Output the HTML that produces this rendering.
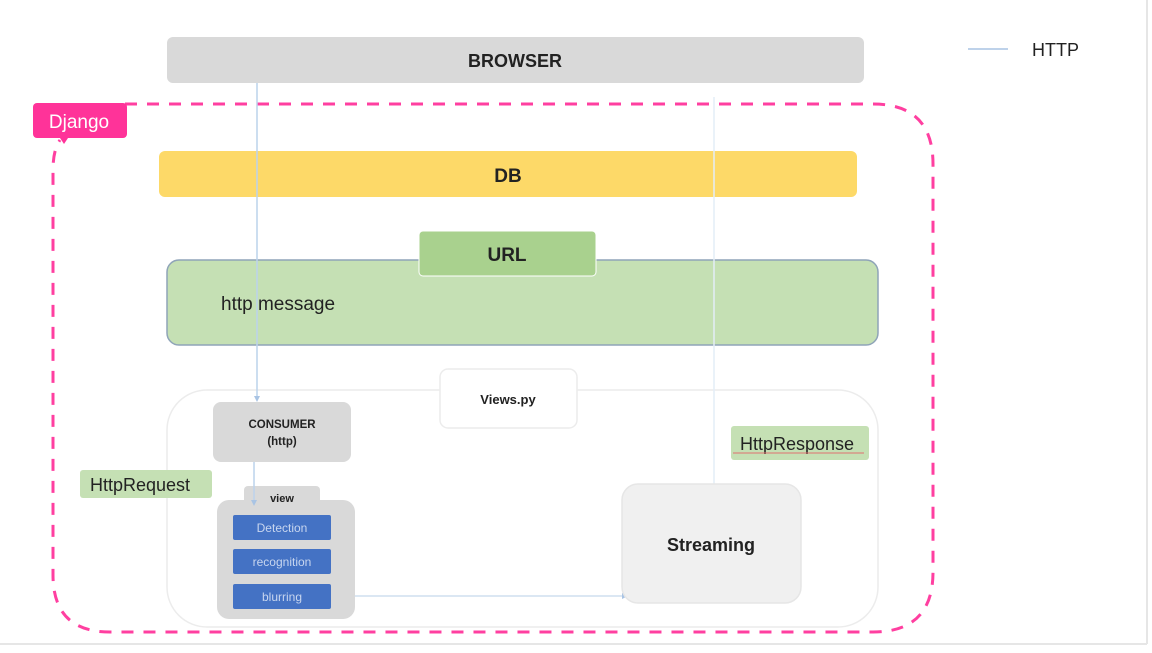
<!DOCTYPE html>
<html><head><meta charset="utf-8"><style>
body{margin:0;width:1152px;height:648px;background:#fff;overflow:hidden}
svg text{font-family:"Liberation Sans","Noto Sans CJK KR",sans-serif}
</style></head><body>
<svg width="1152" height="648" viewBox="0 0 1152 648" xmlns="http://www.w3.org/2000/svg">
<line x1="1147" y1="0" x2="1147" y2="644" stroke="#e6e6e6" stroke-width="2"/>
<line x1="0" y1="644" x2="1147" y2="644" stroke="#e6e6e6" stroke-width="2"/>
<!-- legend -->
<line x1="968" y1="49" x2="1008" y2="49" stroke="#a9c4e4" stroke-width="1.5"/>
<text x="1032" y="56" font-size="18" fill="#222">HTTP</text>
<!-- browser -->
<rect x="167" y="37" width="697" height="46" rx="6" fill="#d9d9d9"/>
<text x="515" y="67" font-size="18" font-weight="bold" text-anchor="middle" fill="#222">BROWSER</text>
<!-- dashed django -->
<path d="M125 104 H873 Q933 104 933 164 V572 Q933 632 873 632 H110 Q53 632 53 575 V170 Q53 150 60 140" fill="none" stroke="#ff3fa0" stroke-width="3" stroke-dasharray="12 10"/>
<rect x="33" y="103" width="94" height="35" rx="4" fill="#ff3399"/>
<polygon points="60,138 68,138 64,144" fill="#ff3399"/>
<text x="79" y="128" font-size="19" text-anchor="middle" fill="#fff">Django</text>
<!-- DB -->
<rect x="159" y="151" width="698" height="46" rx="6" fill="#fdd968"/>
<text x="508" y="182" font-size="19" font-weight="bold" text-anchor="middle" fill="#222">DB</text>
<!-- URL -->
<rect x="167" y="260" width="711" height="85" rx="12" fill="#c5e0b4" stroke="#8fa4b8" stroke-width="1.5"/>
<rect x="419" y="231" width="177" height="45" rx="4" fill="#a9d18e" stroke="#fff" stroke-width="1"/>
<text x="507" y="261" font-size="19" font-weight="bold" text-anchor="middle" fill="#222">URL</text>
<text x="221" y="310" font-size="19" fill="#222">http message</text>
<!-- views outer -->
<rect x="167" y="390" width="711" height="237" rx="40" fill="none" stroke="#ececec" stroke-width="1.5"/>
<rect x="440" y="369" width="137" height="59" rx="8" fill="#fff" stroke="#ececec" stroke-width="1.5"/>
<text x="508" y="404" font-size="13" font-weight="bold" text-anchor="middle" fill="#222">Views.py</text>
<!-- lines -->
<line x1="257" y1="83" x2="257" y2="398" stroke="#bcd3ec" stroke-width="1.5"/>
<polygon points="254,396 260,396 257,402" fill="#a9c4e4"/>
<line x1="714" y1="97" x2="714" y2="484" stroke="#e4edf7" stroke-width="1.5"/>
<!-- consumer -->
<rect x="213" y="402" width="138" height="60" rx="8" fill="#d9d9d9"/>
<text x="282" y="428" font-size="11.5" font-weight="bold" text-anchor="middle" fill="#222">CONSUMER</text>
<text x="282" y="445" font-size="11.5" font-weight="bold" text-anchor="middle" fill="#222">(http)</text>
<!-- HttpRequest -->
<rect x="80" y="470" width="132" height="28" rx="3" fill="#c5e0b4"/>
<text x="90" y="491" font-size="18" fill="#222">HttpRequest</text>
<!-- view -->
<rect x="244" y="486" width="76" height="24" rx="4" fill="#d9d9d9"/>
<rect x="217" y="500" width="138" height="119" rx="12" fill="#d9d9d9"/>
<text x="282" y="502" font-size="11" font-weight="bold" text-anchor="middle" fill="#222">view</text>
<line x1="254" y1="462" x2="254" y2="502" stroke="#bcd3ec" stroke-width="1.5"/>
<polygon points="251,500 257,500 254,506" fill="#a9c4e4"/>
<rect x="233" y="515" width="98" height="25" rx="2" fill="#4472c4"/>
<text x="282" y="532" font-size="12" text-anchor="middle" fill="#c8d6ef">Detection</text>
<rect x="233" y="549" width="98" height="25" rx="2" fill="#4472c4"/>
<text x="282" y="566" font-size="12" text-anchor="middle" fill="#c8d6ef">recognition</text>
<rect x="233" y="584" width="98" height="25" rx="2" fill="#4472c4"/>
<text x="282" y="601" font-size="12" text-anchor="middle" fill="#c8d6ef">blurring</text>
<line x1="355" y1="596" x2="626" y2="596" stroke="#cfdfef" stroke-width="1.5"/>
<polygon points="622,593 628,596 622,599" fill="#a9c4e4"/>
<!-- streaming -->
<rect x="622" y="484" width="179" height="119" rx="16" fill="#f0f0f0" stroke="#e6e6e6" stroke-width="1.5"/>
<text x="711" y="551" font-size="18" font-weight="bold" text-anchor="middle" fill="#222">Streaming</text>
<!-- HttpResponse -->
<rect x="731" y="426" width="138" height="34" rx="3" fill="#c5e0b4"/>
<text x="740" y="450" font-size="18" fill="#222">HttpResponse</text>
<line x1="733" y1="453" x2="864" y2="453" stroke="#e07070" stroke-width="1"/>
</svg>
</body></html>
